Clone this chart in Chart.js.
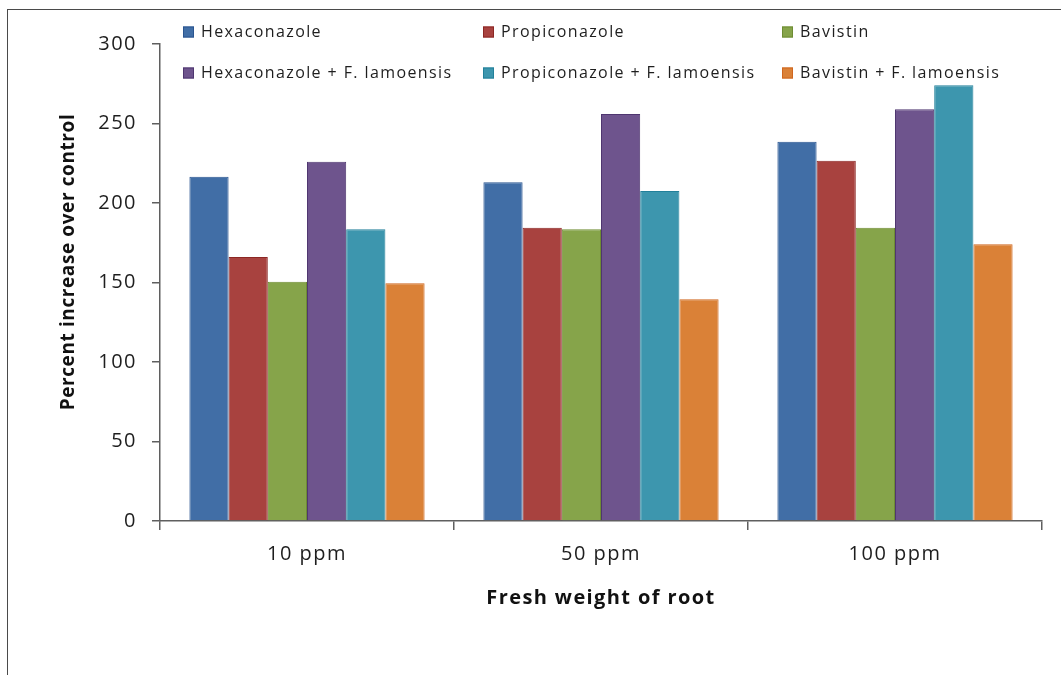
<!DOCTYPE html>
<html>
<head>
<meta charset="utf-8">
<script src="https://cdn.jsdelivr.net/npm/chart.js@4.4.1/dist/chart.umd.min.js"></script>
<style>
  html, body { margin: 0; padding: 0; background: #fff; overflow: hidden; }
  #frame { position: absolute; left: 7px; top: 9px; width: 1300px; height: 900px;
           border-left: 1.5px solid #4a4a4a; border-top: 1.5px solid #4a4a4a; }
  #wrap { position: absolute; left: 0; top: 0; width: 1061px; height: 675px; }
</style>
</head>
<body>
<div id="frame"></div>
<div id="wrap"><canvas id="c" width="1061" height="675"></canvas></div>
<script>
// Fresh weight of root: percent increase over control
const categories = ['10 ppm', '50 ppm', '100 ppm'];
const seriesNames = [
  'Hexaconazole', 'Propiconazole', 'Bavistin',
  'Hexaconazole + F. lamoensis', 'Propiconazole + F. lamoensis', 'Bavistin + F. lamoensis'
];
const hexaconazole   = [216.5, 213, 238.5];
const propiconazole  = [166, 184.5, 226.5];
const bavistin       = [150.5, 183.5, 184.5];
const hexaconazoleFl = [226, 256, 259];
const propiconazoleFl = [183.5, 207.5, 274];
const bavistinFl     = [149.5, 139.5, 174];
const yTicks = [0, 50, 100, 150, 200, 250, 300];

const seriesValues = [hexaconazole, propiconazole, bavistin, hexaconazoleFl, propiconazoleFl, bavistinFl];
const fills   = ['#416ea6', '#a8423f', '#86a44a', '#6e548d', '#3d96ae', '#da8137'];
const borders = ['#2a5590', '#8c2724', '#6e8c33', '#4f3670', '#22809a', '#d0661e'];

const AXIS = '#5f5f5f';
const FONT = '"Open Sans", "DejaVu Sans", sans-serif';

const spacing = {
  id: 'spacing',
  beforeUpdate(chart) { chart.ctx.letterSpacing = '1.5px'; },
  beforeDraw(chart) { chart.ctx.letterSpacing = '1.5px'; }
};

const decorations = {
  id: 'decorations',
  afterDraw(chart) {
    const ctx = chart.ctx;
    ctx.save();
    // legend: three columns, two rows
    ctx.letterSpacing = '1.4px';
    ctx.font = '16px ' + FONT;
    ctx.textBaseline = 'middle';
    ctx.textAlign = 'left';
    const colX = [183, 483, 782];
    const rowY = [32, 73];
    chart.data.datasets.forEach((ds, i) => {
      const x = colX[i % 3], y = rowY[Math.floor(i / 3)];
      ctx.fillStyle = ds.backgroundColor;
      ctx.fillRect(x, y - 5.5, 11, 11);
      ctx.strokeStyle = ds.borderColor;
      ctx.lineWidth = 1;
      ctx.strokeRect(x + 0.5, y - 5, 10, 10);
      ctx.fillStyle = '#1e1e1e';
      ctx.fillText(ds.label, x + 18, y);
    });
    // axis titles
    ctx.fillStyle = '#111';
    ctx.textAlign = 'center';
    ctx.letterSpacing = '1.4px';
    ctx.font = 'bold 20px ' + FONT;
    ctx.fillText('Fresh weight of root', 601, 598);
    ctx.letterSpacing = '0.6px';
    ctx.font = 'bold 19px ' + FONT;
    ctx.translate(69, 262);
    ctx.rotate(-Math.PI / 2);
    ctx.fillText('Percent increase over control', 0, 0);
    ctx.restore();
  }
};

new Chart(document.getElementById('c'), {
  type: 'bar',
  data: {
    labels: categories,
    datasets: seriesNames.map((name, i) => ({
      label: name,
      data: seriesValues[i],
      backgroundColor: fills[i],
      borderColor: borders[i],
      borderWidth: 1,
      categoryPercentage: 0.8,
      barPercentage: 1.0
    }))
  },
  options: {
    responsive: false,
    devicePixelRatio: 1,
    animation: false,
    layout: { padding: { top: 44, right: 19, left: 0, bottom: 0 } },
    plugins: { legend: { display: false }, tooltip: { enabled: false } },
    scales: {
      x: {
        grid: { offset: true, drawOnChartArea: false, drawTicks: true, tickLength: 9, color: AXIS, lineWidth: 1.5 },
        border: { color: AXIS, width: 1.5 },
        ticks: { font: { family: FONT, size: 20 }, color: '#1e1e1e', padding: 12 },
        afterFit(scale) { scale.height = 154; }
      },
      y: {
        min: 0, max: 300,
        afterBuildTicks(scale) { scale.ticks = yTicks.map(v => ({ value: v })); },
        grid: { drawOnChartArea: false, drawTicks: true, tickLength: 8, color: AXIS, lineWidth: 1.5 },
        border: { color: AXIS, width: 1.5 },
        ticks: { font: { family: FONT, size: 20 }, color: '#1e1e1e', padding: 15 },
        afterFit(scale) { scale.width = 160; }
      }
    }
  },
  plugins: [spacing, decorations]
});
</script>
</body>
</html>
